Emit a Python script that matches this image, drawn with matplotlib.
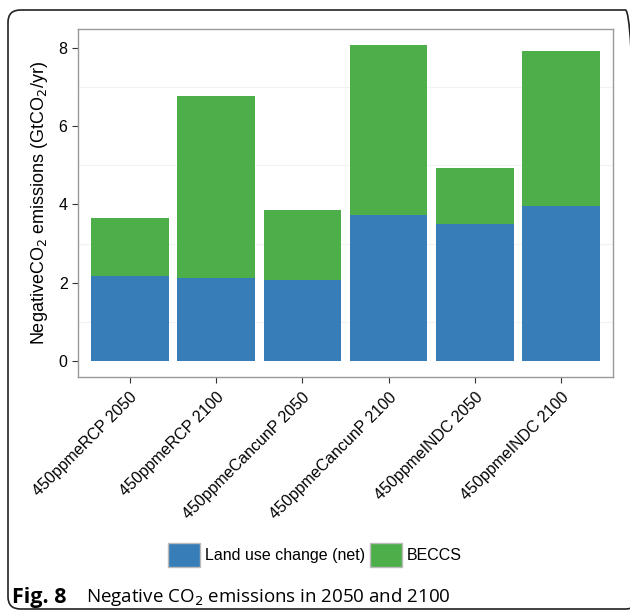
import matplotlib
matplotlib.use("Agg")
import matplotlib.pyplot as plt
from matplotlib.patches import FancyBboxPatch, Patch

plt.rcParams['font.family'] = ['Liberation Sans', 'DejaVu Sans']

scenarios = ['450ppmeRCP 2050', '450ppmeRCP 2100', '450ppmeCancunP 2050',
             '450ppmeCancunP 2100', '450ppmeINDC 2050', '450ppmeINDC 2100']
land_use = [2.17, 2.12, 2.08, 3.74, 3.50, 3.95]
totals = [3.65, 6.78, 3.85, 8.08, 4.92, 7.92]
beccs = [t - l for t, l in zip(totals, land_use)]

blue = '#377EB8'
green = '#4DAF4A'

fig = plt.figure(figsize=(6.3, 6.13), dpi=100)
ax = fig.add_axes([78/630, 1 - 377/613, (613-78)/630, (377-29)/613])

x = list(range(1, len(scenarios) + 1))
ax.bar(x, land_use, width=0.9, color=blue, zorder=3)
ax.bar(x, beccs, width=0.9, bottom=land_use, color=green, zorder=3)

ax.set_xlim(0.4, 6.6)
ax.set_ylim(-0.404, 8.48)
ax.set_yticks([0, 2, 4, 6, 8])
for v in [1, 3, 5, 7]:
    ax.axhline(v, color='#f2f2f2', lw=0.8, zorder=1)
ax.set_xticks(x)
ax.set_xticklabels(scenarios, rotation=45, ha='right', va='top',
                   rotation_mode='anchor', fontsize=11.5)
ax.tick_params(axis='y', labelsize=11.5, length=4, color='#333333')
ax.tick_params(axis='x', length=4, color='#333333', pad=5)
for s in ax.spines.values():
    s.set_color('#999999')
    s.set_linewidth(1)
ax.set_ylabel('NegativeCO$_2$ emissions (GtCO$_2$/yr)', fontsize=13, labelpad=6)

handles = [Patch(facecolor=blue, edgecolor='#bbbbbb', label='Land use change (net)'),
           Patch(facecolor=green, edgecolor='#bbbbbb', label='BECCS')]
fig.legend(handles=handles, loc='center', bbox_to_anchor=(0.5, 1 - 555/613),
           ncol=2, frameon=False, fontsize=11.5, handlelength=2.0, handleheight=2.0,
           columnspacing=0.3, handletextpad=0.3)

# rounded figure frame
frame = FancyBboxPatch((8/630, 4/613), 630/630, (613-14)/613,
                       boxstyle='round,pad=0,rounding_size=0.02',
                       transform=fig.transFigure, fill=False,
                       edgecolor='#222222', lw=1.2, clip_on=False)
fig.patches.append(frame)

fig.text(12/630, 1 - 597/613, 'Fig. 8', fontsize=15.5, fontweight='bold',
         va='center', ha='left', family=['Open Sans', 'DejaVu Sans'])
fig.text(86/630, 1 - 597/613, 'Negative CO$_2$ emissions in 2050 and 2100',
         fontsize=13.5, va='center', ha='left', family=['Open Sans', 'DejaVu Sans'])

fig.savefig('out.png', dpi=100)
